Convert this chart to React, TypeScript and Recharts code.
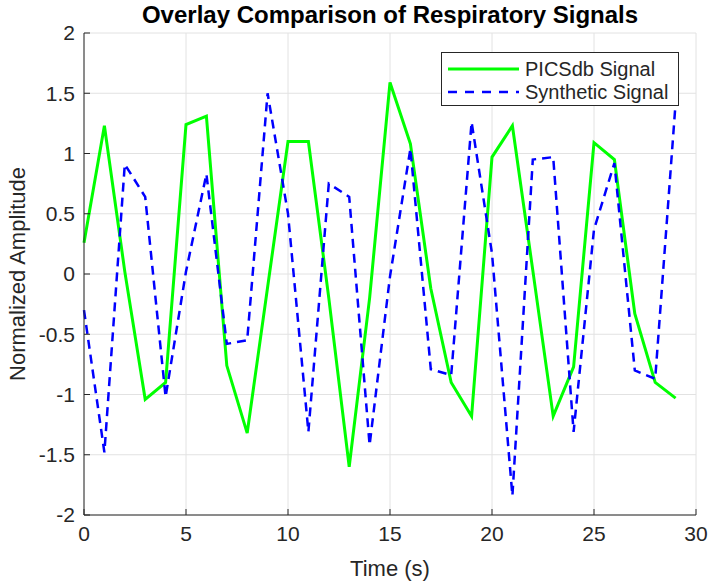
import { LineChart, Line, XAxis, YAxis, CartesianGrid, Legend } from "recharts";

// sample index (seconds)
const times = [
  0, 1, 2, 3, 4, 5, 6, 7, 8, 9, 10, 11, 12, 13, 14, 15, 16, 17, 18, 19, 20, 21, 22, 23, 24, 25, 26, 27, 28, 29,
];

const picsdbSignal = [
  0.26, 1.23, 0.02, -1.04, -0.9, 1.24, 1.31, -0.76, -1.32, -0.11, 1.1, 1.1, -0.2, -1.6, -0.2, 1.59, 1.08, -0.12,
  -0.9, -1.18, 0.97, 1.23, 0.03, -1.18, -0.77, 1.09, 0.95, -0.33, -0.9, -1.03,
];

const syntheticSignal = [
  -0.3, -1.48, 0.91, 0.64, -1.02, 0.02, 0.83, -0.58, -0.55, 1.5, 0.5, -1.31, 0.75, 0.64, -1.42, -0.02, 1.04, -0.79,
  -0.84, 1.26, 0.17, -1.84, 0.95, 0.97, -1.31, 0.37, 0.92, -0.8, -0.87, 1.42,
];

const xTicks = [0, 5, 10, 15, 20, 25, 30];
const yTicks = [-2, -1.5, -1, -0.5, 0, 0.5, 1, 1.5, 2];

const data = times.map((t, i) => ({ t, picsdb: picsdbSignal[i], synthetic: syntheticSignal[i] }));

const FONT = '"Liberation Sans", Arial, sans-serif';
const INK = "#262626";
const GREEN = "#00ff00";
const BLUE = "#0000ff";

function LegendBox() {
  const row = (top: number, label: string, dashed: boolean) => (
    <div style={{ position: "absolute", left: 0, top, height: 22, width: "100%" }}>
      <svg width={80} height={22} style={{ position: "absolute", left: 0, top: 0 }}>
        <line
          x1={6}
          x2={77}
          y1={11}
          y2={11}
          stroke={dashed ? BLUE : GREEN}
          strokeWidth={dashed ? 2.5 : 3}
          strokeDasharray={dashed ? "9 8" : undefined}
        />
      </svg>
      <span style={{ position: "absolute", left: 83, top: 0, lineHeight: "22px", whiteSpace: "nowrap" }}>{label}</span>
    </div>
  );
  return (
    <div
      style={{
        position: "relative",
        width: 236,
        height: 52,
        border: `1px solid ${INK}`,
        background: "#fff",
        fontFamily: FONT,
        fontSize: 20,
        color: INK,
      }}
    >
      {row(5, "PICSdb Signal", false)}
      {row(28, "Synthetic Signal", true)}
    </div>
  );
}

export default function App() {
  return (
    <div style={{ position: "absolute", left: 0, top: 0, width: 712, height: 583, background: "#fff" }}>
      <div
        style={{
          position: "absolute",
          left: 84,
          top: 3,
          width: 612,
          textAlign: "center",
          fontFamily: FONT,
          fontWeight: "bold",
          fontSize: 24,
          lineHeight: "24px",
          color: "#000",
          whiteSpace: "nowrap",
        }}
      >
        Overlay Comparison of Respiratory Signals
      </div>
      <LineChart width={712} height={583} data={data} margin={{ top: 33, right: 16, bottom: 0, left: 0 }}>
        <CartesianGrid stroke="#e2e2e2" strokeWidth={1} />
        <XAxis
          type="number"
          dataKey="t"
          domain={[0, 30]}
          ticks={xTicks}
          interval={0}
          height={68}
          stroke={INK}
          tickSize={-6}
          tickMargin={17}
          tick={{ fill: INK, fontSize: 21, fontFamily: FONT }}
          label={{ value: "Time (s)", position: "insideBottom", offset: 7, fill: INK, fontSize: 22, fontFamily: FONT }}
        />
        <XAxis
          xAxisId="top"
          orientation="top"
          type="number"
          domain={[0, 30]}
          ticks={xTicks}
          interval={0}
          height={0}
          stroke={INK}
          tickSize={-6}
          tick={false}
        />
        <YAxis
          type="number"
          domain={[-2, 2]}
          ticks={yTicks}
          interval={0}
          width={84}
          stroke={INK}
          tickSize={-6}
          tickMargin={15}
          tick={{ fill: INK, fontSize: 21, fontFamily: FONT }}
          label={{
            value: "Normalized Amplitude",
            angle: -90,
            position: "insideLeft",
            offset: 17,
            fill: INK,
            fontSize: 22,
            fontFamily: FONT,
            style: { textAnchor: "middle" },
          }}
        />
        <YAxis
          yAxisId="right"
          orientation="right"
          type="number"
          domain={[-2, 2]}
          ticks={yTicks}
          interval={0}
          width={0}
          stroke={INK}
          tickSize={-6}
          tick={false}
        />
        <Line
          type="linear"
          dataKey="picsdb"
          name="PICSdb Signal"
          stroke={GREEN}
          strokeWidth={3}
          dot={false}
          isAnimationActive={false}
        />
        <Line
          type="linear"
          dataKey="synthetic"
          name="Synthetic Signal"
          stroke={BLUE}
          strokeWidth={2.5}
          strokeDasharray="9 6"
          dot={false}
          isAnimationActive={false}
        />
        <Legend
          layout="vertical"
          align="center"
          verticalAlign="middle"
          content={() => <LegendBox />}
          wrapperStyle={{ top: 52, left: 441, width: 238, height: 54 }}
        />
      </LineChart>
    </div>
  );
}
